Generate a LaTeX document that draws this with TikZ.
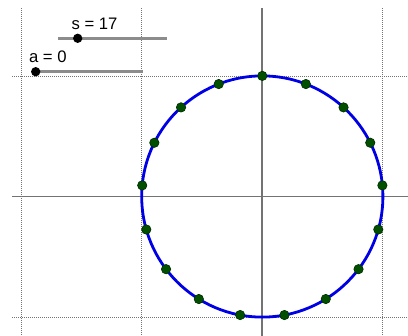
\documentclass[tikz,border=0pt]{standalone}
\usepackage{fontspec}
\setmainfont{Liberation Sans}
\usetikzlibrary{calc}
\begin{document}
\begin{tikzpicture}[x=0.75pt,y=-0.75pt,
  gridline/.style={draw=black!55,line width=0.75pt,dash pattern=on 0.75pt off 0.75pt},
  axisline/.style={draw=black!55,line width=1.35pt},
  sliderline/.style={draw=black!45,line width=2.2pt},
  sliderpt/.style={circle,fill=black,inner sep=0pt,minimum size=7pt},
  circpt/.style={circle,fill=black!30!green!45!black,draw=black!40!green!30!black,line width=0.5pt,inner sep=0pt,minimum size=7pt},
  lbl/.style={anchor=base west,inner sep=0pt,font=\fontsize{12.5}{14}\selectfont}]
\useasboundingbox (0,0) rectangle (408,336);
\fill[white] (0,0) rectangle (408,336);
% grid
\foreach \gx in {21.1,141.7,382.9} \draw[gridline] (\gx,8) -- (\gx,336);
\foreach \gy in {76,317} \draw[gridline] (12,\gy) -- (408,\gy);
% axes
\draw[axisline] (262.3,8) -- (262.3,336);
\draw[axisline] (12,196.5) -- (408,196.5);
% circle
\coordinate (O) at (262.3,196.5);
\draw[draw=blue!90!black,line width=2.1pt] (O) circle [radius=120.6];
\foreach \k in {0,...,16} {
  \node[circpt] (p\k) at ($(O)+({120.6*cos(90+\k*360/17)},{-120.6*sin(90+\k*360/17)})$) {};
}
% sliders
\coordinate (s1) at (58,38.3);
\coordinate (s2) at (167,38.3);
\draw[sliderline] (s1) -- (s2);
\node[sliderpt] (sp) at (77.7,38.3) {};
\node[lbl] (sl) at (71.3,29.3) {s = 17};
\coordinate (a1) at (35.7,71.7);
\coordinate (a2) at (143,71.7);
\draw[sliderline] (a1) -- (a2);
\node[sliderpt] (ap) at (35.7,71.7) {};
\node[lbl] (al) at (28.8,62.3) {a = 0};
\end{tikzpicture}
\end{document}
